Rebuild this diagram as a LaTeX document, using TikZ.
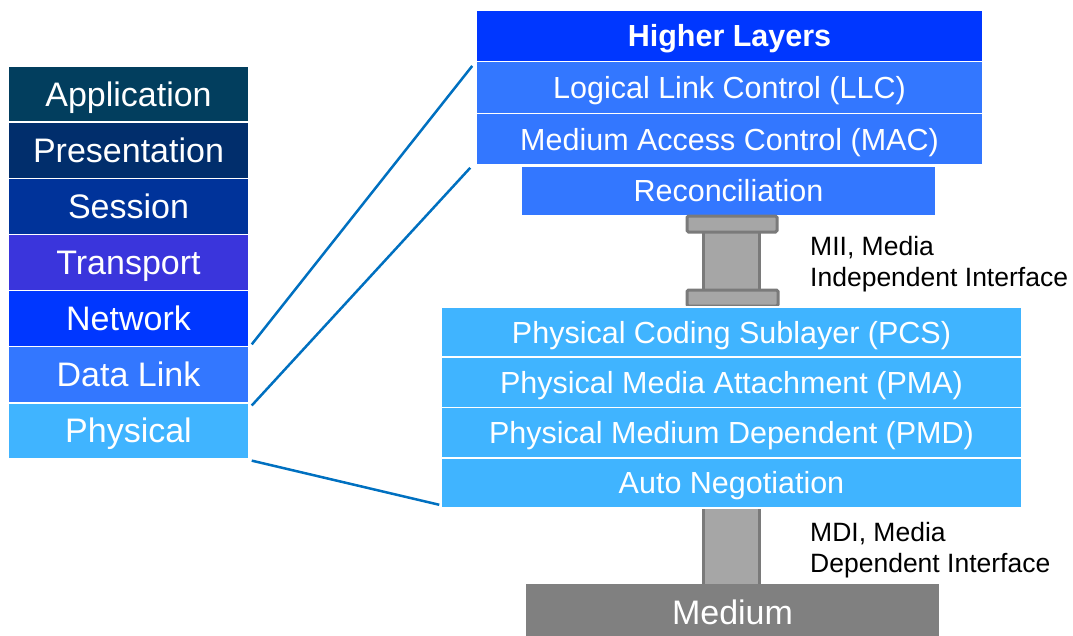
\documentclass[tikz,border=0pt]{standalone}
\usepackage{fontspec}
\setmainfont{Liberation Sans}
\begin{document}
\begin{tikzpicture}[x=1pt,y=-1pt]
% colours of the layers
\definecolor{cApp}{HTML}{023E5E}
\definecolor{cPres}{HTML}{012E6C}
\definecolor{cSess}{HTML}{00339A}
\definecolor{cTrans}{HTML}{3A35DC}
\definecolor{cNet}{HTML}{0037FF}
\definecolor{cLink}{HTML}{3377FF}
\definecolor{cPhy}{HTML}{40B4FF}
\definecolor{cMed}{HTML}{808080}
\definecolor{cPlug}{HTML}{A6A6A6}
\definecolor{cPlugEdge}{HTML}{7A7A7A}
\definecolor{cWire}{HTML}{0070C0}
\tikzset{
  layer/.style={rectangle, draw=white, line width=1.5pt, inner sep=0pt,
    text=white, text depth=0pt},
  osi/.style={layer, minimum width=241pt, minimum height=56.125pt,
    font=\fontsize{34}{40}\selectfont, text height=24.3pt},
  upper/.style={layer, fill=cLink, minimum width=507pt, minimum height=51.67pt,
    font=\fontsize{30.5}{36}\selectfont, text height=21.8pt},
  lower/.style={layer, fill=cPhy, minimum width=581pt, minimum height=50.25pt,
    font=\fontsize{30.5}{36}\selectfont, text height=21.8pt},
  plug/.style={fill=cPlug, draw=cPlugEdge, line width=3pt},
  wire/.style={draw=cWire, line width=2.5pt},
  note/.style={anchor=north west, inner sep=0pt, align=left, text=black,
    font=\fontsize{26.5}{31}\selectfont},
}
\useasboundingbox (0,0) rectangle (1073,635);

% MDI connector column, behind the boxes
\draw[plug] (703,504) rectangle (759,588);

% OSI reference model
\node[osi, fill=cApp]   (app)  at (128.5, 94.06)  {Application};
\node[osi, fill=cPres]  (pres) at (128.5, 150.19) {Presentation};
\node[osi, fill=cSess]  (sess) at (128.5, 206.31) {Session};
\node[osi, fill=cTrans] (trans) at (128.5, 262.44) {Transport};
\node[osi, fill=cNet]   (net)  at (128.5, 318.56) {Network};
\node[osi, fill=cLink]  (dl)   at (128.5, 374.69) {Data Link};
\node[osi, fill=cPhy]   (phy)  at (128.5, 430.81) {Physical};

% Ethernet sublayers
\node[upper, fill=cNet, font=\fontsize{30.5}{36}\selectfont\bfseries]
  (hl) at (729.5, 35.8) {Higher Layers};
\node[upper] (llc) at (729.5, 87.5)  {Logical Link Control (LLC)};
\node[upper] (mac) at (729.5, 139.2) {Medium Access Control (MAC)};
\node[upper, minimum width=415pt, minimum height=50pt]
  (rec) at (728.5, 191) {Reconciliation};

% MII connector
\draw[plug] (703,230) rectangle (759,292);
\draw[plug, rounded corners=1.5pt] (687,216) rectangle (777,232);
\draw[plug, rounded corners=1.5pt] (687,290) rectangle (778,306);

\node[lower] (pcs) at (731.5, 332.1) {Physical Coding Sublayer (PCS)};
\node[lower] (pma) at (731.5, 382.4) {Physical Media Attachment (PMA)};
\node[lower] (pmd) at (731.5, 432.6) {Physical Medium Dependent (PMD)};
\node[lower] (an)  at (731.5, 482.9) {Auto Negotiation};

\node[layer, draw=none, fill=cMed, minimum width=413pt, minimum height=56pt,
  font=\fontsize{34}{40}\selectfont, text height=24.3pt]
  (med) at (732.5, 612) {Medium};

% interface labels
\node[note] (mii) at (810, 236.5) {MII, Media\\Independent Interface};
\node[note] (mdi) at (810, 522.5) {MDI, Media\\Dependent Interface};

% mapping of the OSI layers onto the sublayers
\draw[wire] ([shift={(2,-3)}]net.south east) -- ([shift={(-3,5)}]llc.north west);
\draw[wire] ([shift={(2,2)}]dl.south east) -- ([shift={(-5,2)}]mac.south west);
\draw[wire] ([shift={(2,1)}]phy.south east) -- ([shift={(-1,-4)}]an.south west);
\end{tikzpicture}
\end{document}
